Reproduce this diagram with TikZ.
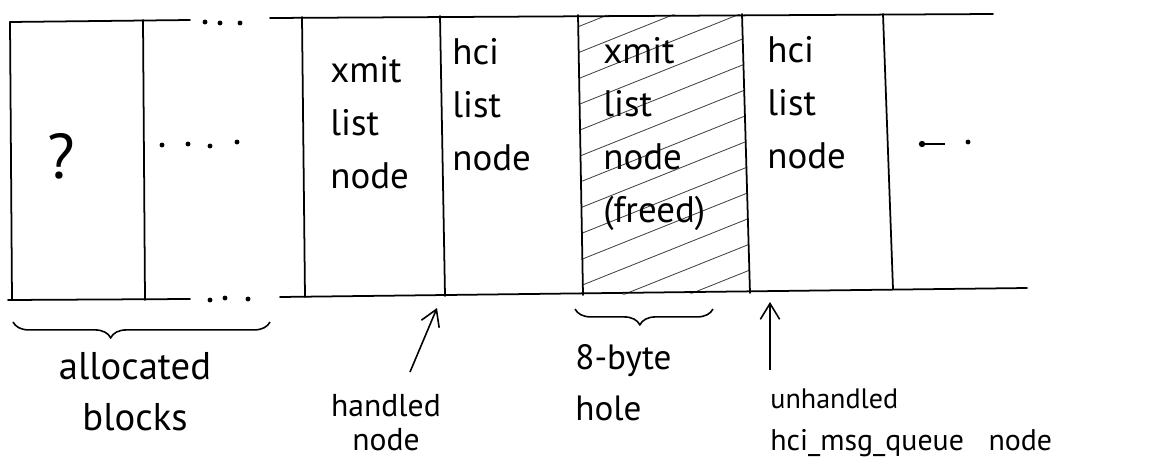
\documentclass[tikz,border=0pt]{standalone}
\usepackage{fontspec}
\setmainfont{PT Sans}
\usetikzlibrary{arrows.meta,decorations.pathreplacing}
\begin{document}
\begin{tikzpicture}[x=0.02cm,y=-0.02cm,
  wall/.style={line width=1pt, line cap=round},
  hatchline/.style={line width=0.5pt, black!70},
  celltext/.style={font=\fontsize{21}{30}\selectfont, align=left, anchor=base west, inner sep=0pt},
  labeltext/.style={inner sep=0pt},
  pointer/.style={-{Straight Barb[length=9pt,width=11pt]}, line width=0.9pt},
  bracket/.style={decorate, line width=0.9pt, decoration={brace, mirror, amplitude=9pt, aspect=#1}},
  dotmark/.style={fill=black}
]
\useasboundingbox (0,0) rectangle (1156,463);

% hatching of the freed block
\begin{scope}
  \clip (578,15) -- (742,14) -- (750,293) -- (583,295) -- cycle;
  \foreach \c in {30,56,...,400} {
    \draw[hatchline] (570,\c) -- (760,\c-76);
  }
\end{scope}

% horizontal lines
\draw[wall] (10,22) -- (190,20);
\draw[wall] (270,18) -- (993,14);
\draw[wall] (8,300) -- (190,299);
\draw[wall] (280,297) -- (1027,288);

% vertical walls
\draw[wall] (10,22) -- (12,300);
\draw[wall] (143,20) -- (145,300);
\draw[wall] (302,17) -- (305,297);
\draw[wall] (440,16) -- (445,296);
\draw[wall] (578,15) -- (583,295);
\draw[wall] (742,14) -- (750,293);
\draw[wall] (883,14) -- (893,289);

% ellipsis dots
\foreach \x/\y in {205/22,220/23,240/23,210/300,225/298,248/299,162/145,188/144,210/146,237/142,968/142}
  \fill[dotmark] (\x,\y) circle (1.4pt);
\fill[dotmark] (922,144) circle (1.8pt);
\draw[line width=0.7pt] (922,144) -- (945,144);

% texts in blocks (anchor = baseline of the last line)
\node[font=\fontsize{36}{40}\selectfont, anchor=base, inner sep=0pt] (unknown) at (61,178) {?};
\node[celltext] (xmitA) at (330,188) {xmit\\list\\node};
\node[celltext] (hciA) at (452,170) {hci\\list\\node};
\node[celltext] (xmitB) at (603,222) {xmit\\list\\node\\(freed)};
\node[celltext] (hciB) at (767,168) {hci\\list\\node};

% braces
\coordinate (allocL) at (13,322);
\coordinate (allocR) at (270,322);
\draw[bracket=0.38] (allocL) -- (allocR);
\coordinate (holeL) at (575,309);
\coordinate (holeR) at (713,309);
\draw[bracket=0.47] (holeL) -- (holeR);

% labels
\node[labeltext, align=center, anchor=base, font=\fontsize{22}{29}\selectfont] (alloc) at (135,430) {allocated\\blocks};
\node[labeltext, align=center, anchor=base, font=\fontsize{18}{19}\selectfont] (handled) at (386,450) {handled\\node};
\node[labeltext, align=left, anchor=base west, font=\fontsize{20}{29}\selectfont] (hole) at (575,420) {8-byte\\hole};
\node[labeltext, anchor=base west, font=\fontsize{16}{20}\selectfont] (unhandled) at (770,408) {unhandled};
\node[labeltext, anchor=base west, font=\fontsize{17}{20}\selectfont] (queue) at (770,450) {hci\_msg\_queue\hspace{14pt}node};

% pointers
\coordinate (hstart) at (410,372);
\coordinate (htip) at (437,308);
\draw[pointer] (hstart) -- (htip);
\coordinate (ustart) at (770,370);
\coordinate (utip) at (770,302);
\draw[pointer] (ustart) -- (utip);
\end{tikzpicture}
\end{document}
